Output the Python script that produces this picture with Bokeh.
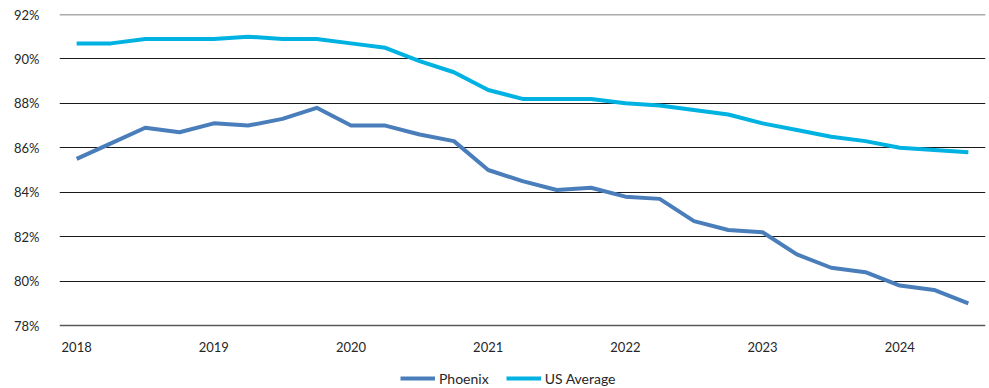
from bokeh.plotting import figure
from bokeh.models import (ColumnDataSource, FixedTicker, Range1d, Legend, LegendItem,
                          CustomJSTickFormatter)
from bokeh.core.properties import value
from bokeh.embed import file_html
from bokeh.resources import INLINE

# Quarterly periods expressed as decimal years (2018 Q1 .. 2024 Q3)
periods = [2018.00, 2018.25, 2018.50, 2018.75,
           2019.00, 2019.25, 2019.50, 2019.75,
           2020.00, 2020.25, 2020.50, 2020.75,
           2021.00, 2021.25, 2021.50, 2021.75,
           2022.00, 2022.25, 2022.50, 2022.75,
           2023.00, 2023.25, 2023.50, 2023.75,
           2024.00, 2024.25, 2024.50]

phoenix = [85.5, 86.2, 86.9, 86.7, 87.1, 87.0, 87.3, 87.8,
           87.0, 87.0, 86.6, 86.3, 85.0, 84.5, 84.1, 84.2,
           83.8, 83.7, 82.7, 82.3, 82.2, 81.2, 80.6, 80.4,
           79.8, 79.6, 79.0]

us_average = [90.7, 90.7, 90.9, 90.9, 90.9, 91.0, 90.9, 90.9,
              90.7, 90.5, 89.9, 89.4, 88.6, 88.2, 88.2, 88.2,
              88.0, 87.9, 87.7, 87.5, 87.1, 86.8, 86.5, 86.3,
              86.0, 85.9, 85.8]

year_ticks = [2018, 2019, 2020, 2021, 2022, 2023, 2024]
year_labels = ["2018", "2019", "2020", "2021", "2022", "2023", "2024"]
pct_ticks = [78, 80, 82, 84, 86, 88, 90, 92]

FONT = "Lato"
TEXT_COLOR = "#262626"

# Layout: the value axis spans 78-92 over 311 px; the plot area continues
# 63 px further down to hold the year labels and the legend.
Y_MIN, Y_MAX = 78, 92
AXIS_PX = 311
BELOW_PX = 63
px_per_unit = AXIS_PX / (Y_MAX - Y_MIN)
y_start = Y_MIN - BELOW_PX / px_per_unit
X_START, X_END = 2017.875, 2024.625

source = ColumnDataSource(data=dict(x=periods, phoenix=phoenix, us=us_average))

p = figure(frame_width=926, frame_height=AXIS_PX + BELOW_PX,
           output_backend="svg", toolbar_location=None,
           x_range=Range1d(X_START, X_END), y_range=Range1d(y_start, Y_MAX),
           min_border_left=59, min_border_right=4, min_border_top=14,
           min_border_bottom=0)
p.outline_line_color = None
p.background_fill_color = "white"
p.border_fill_color = "white"
p.xaxis.visible = False
p.xgrid.grid_line_color = None

# y axis: percentage labels with horizontal gridlines
p.yaxis.ticker = FixedTicker(ticks=pct_ticks)
p.yaxis.formatter = CustomJSTickFormatter(code="return tick.toFixed(0) + '%';")
p.yaxis.axis_line_color = None
p.yaxis.major_tick_line_color = None
p.yaxis.minor_tick_line_color = None
p.yaxis.major_label_text_font = FONT
p.yaxis.major_label_text_font_size = "13px"
p.yaxis.major_label_text_color = TEXT_COLOR
p.yaxis.major_label_standoff = 14
p.ygrid.ticker = FixedTicker(ticks=pct_ticks[1:-1])
p.ygrid.grid_line_color = "#1a1a1a"
p.ygrid.grid_line_width = 1

# grey boundary lines at the bottom (category axis) and top of the value range
p.line(x=[X_START, X_END], y=[Y_MIN, Y_MIN], line_color="#595959", line_width=1.5)
p.line(x=[X_START, X_END], y=[Y_MAX, Y_MAX], line_color="#595959", line_width=1.5)

r_phx = p.line("x", "phoenix", source=source, line_color="#4a7ebb", line_width=4,
               line_join="round")
r_us = p.line("x", "us", source=source, line_color="#00b2e2", line_width=4,
              line_join="round")

# year labels under the baseline
label_y = Y_MIN - 21 / px_per_unit
p.text(x=year_ticks, y=[label_y] * len(year_ticks), text=year_labels,
       text_font=value(FONT), text_font_size="13px", text_color=TEXT_COLOR,
       text_align="center", text_baseline="middle")

legend = Legend(items=[LegendItem(label="Phoenix", renderers=[r_phx]),
                       LegendItem(label="US Average", renderers=[r_us])],
                orientation="horizontal", location=(341, 0),
                label_text_font=FONT, label_text_font_size="14px",
                label_text_color=TEXT_COLOR, glyph_width=35, glyph_height=20,
                label_height=20, label_standoff=4, spacing=17, padding=0, margin=0,
                border_line_color=None, background_fill_alpha=0)
p.add_layout(legend, "center")

open("out.html", "w").write(file_html(p, INLINE))
